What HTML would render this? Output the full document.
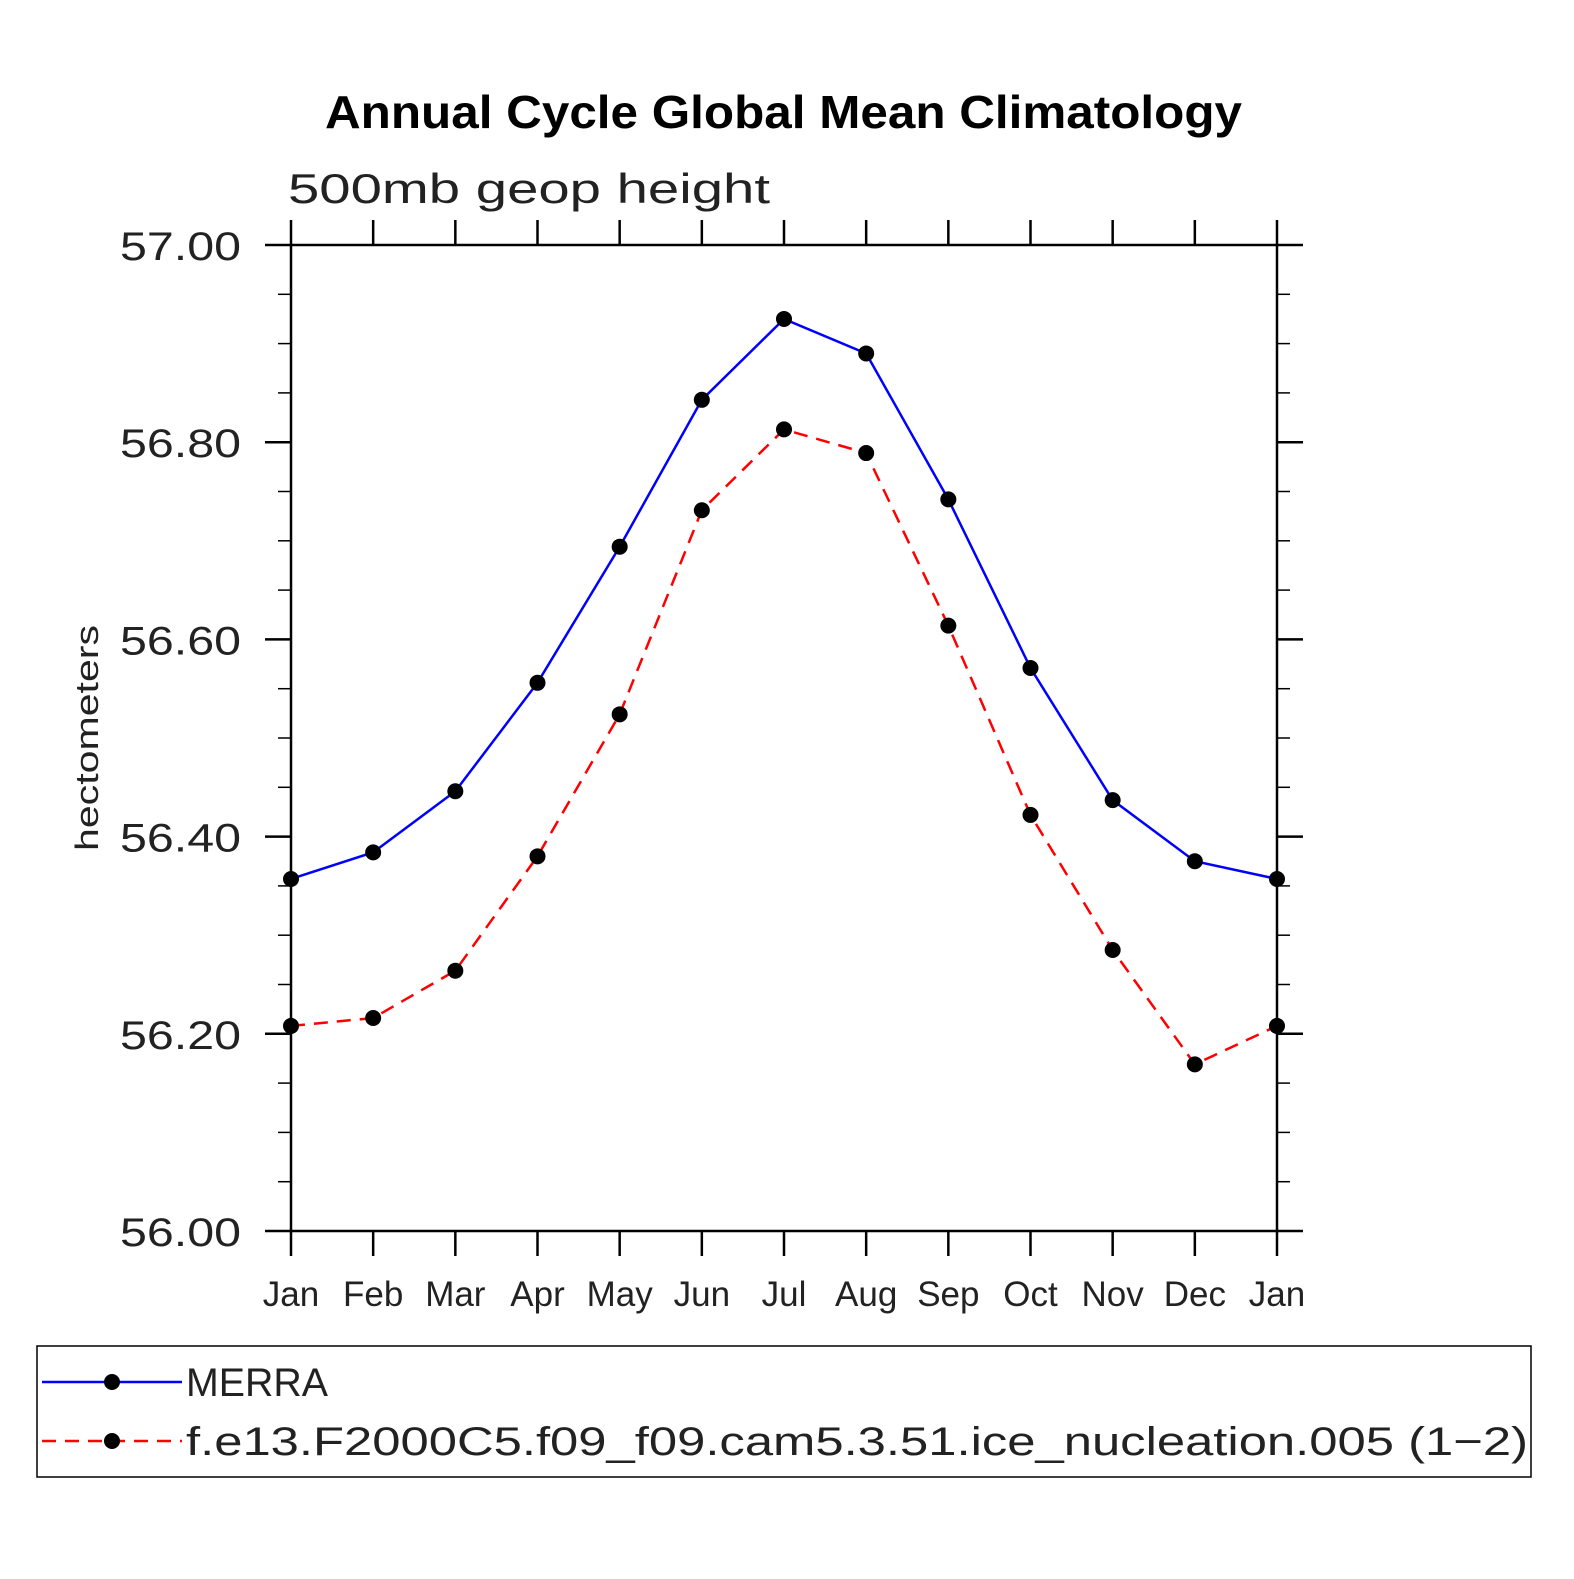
<!DOCTYPE html>
<html><head><meta charset="utf-8"><style>
html,body{margin:0;padding:0;background:#fff;}
svg text{font-family:"Liberation Sans",sans-serif;}
</style></head><body>
<svg id="chart" width="1574" height="1574" viewBox="0 0 1574 1574" xmlns="http://www.w3.org/2000/svg">
<text x="325" y="128" textLength="917" lengthAdjust="spacingAndGlyphs" font-size="46" font-weight="bold">Annual Cycle Global Mean Climatology</text>
<text x="288" y="203" textLength="482" lengthAdjust="spacingAndGlyphs" font-size="42" fill="#222">500mb geop height</text>
<text transform="translate(98,738) rotate(-90)" text-anchor="middle" textLength="226" lengthAdjust="spacingAndGlyphs" font-size="32" fill="#222">hectometers</text>
<g id="axes"></g>
<g id="series"></g>
<rect x="37" y="1346" width="1494" height="131" fill="none" stroke="#000" stroke-width="1.5"/>
<g>
<line x1="42" y1="1382" x2="182" y2="1382" stroke="#00f" stroke-width="2.5"/>
<circle cx="112" cy="1382" r="8" fill="#000"/>
<text x="186" y="1396" textLength="142" lengthAdjust="spacingAndGlyphs" font-size="40" fill="#222">MERRA</text>
</g>
<g>
<line x1="42" y1="1441" x2="182" y2="1441" stroke="#f00" stroke-width="2.5" stroke-dasharray="14,9"/>
<circle cx="112" cy="1441" r="8" fill="#000"/>
<text x="186" y="1455" textLength="1342" lengthAdjust="spacingAndGlyphs" font-size="40" fill="#222">f.e13.F2000C5.f09_f09.cam5.3.51.ice_nucleation.005 (1−2)</text>
</g>
</svg>
<script>
const months = ["Jan","Feb","Mar","Apr","May","Jun","Jul","Aug","Sep","Oct","Nov","Dec","Jan"];
const merra = [56.357,56.384,56.446,56.556,56.694,56.843,56.925,56.890,56.742,56.571,56.437,56.375,56.357];
const model = [56.208,56.216,56.264,56.380,56.524,56.731,56.813,56.789,56.614,56.422,56.285,56.169,56.208];
const yTicks = [56.00,56.20,56.40,56.60,56.80,57.00];
const X0=291,X1=1277,Y0=1231,Y1=245,ymin=56,ymax=57;
const xs=i=>X0+(X1-X0)*i/(months.length-1);
const ys=v=>Y0-(v-ymin)/(ymax-ymin)*(Y0-Y1);
const NS="http://www.w3.org/2000/svg";
function mk(tag,attrs,parent){const e=document.createElementNS(NS,tag);for(const k in attrs)e.setAttribute(k,attrs[k]);parent.appendChild(e);return e;}
const ax=document.getElementById('axes');
const fr=mk('rect',{x:X0,y:Y1,width:X1-X0,height:Y0-Y1,fill:'none',stroke:'#000','stroke-width':2.5},ax);


months.forEach((m,i)=>{
  const x=xs(i);
  mk('line',{x1:x,y1:Y0,x2:x,y2:Y0+25,stroke:'#000','stroke-width':2.5},ax);
  mk('line',{x1:x,y1:Y1,x2:x,y2:Y1-25,stroke:'#000','stroke-width':2.5},ax);
  const t=mk('text',{x:x,y:1306,'text-anchor':'middle','font-size':35,fill:'#222'},ax);
  t.textContent=m;
  
  
});
for(let v=0;v<=20;v++){
  const val=ymin+v*0.05;
  const y=ys(val);
  const major=v%4===0;
  const len=major?26:13;
  mk('line',{x1:X0,y1:y,x2:X0-len,y2:y,stroke:'#000','stroke-width':major?2.5:1.5},ax);
  mk('line',{x1:X1,y1:y,x2:X1+len,y2:y,stroke:'#000','stroke-width':major?2.5:1.5},ax);
}
yTicks.forEach(v=>{
  const t=mk('text',{x:241,y:ys(v)+15,'text-anchor':'end','font-size':40,fill:'#222',textLength:121,lengthAdjust:'spacingAndGlyphs'},ax);
  t.textContent=v.toFixed(2);
  
  
});
const sg=document.getElementById('series');
function drawSeries(data,color,dash,name){
  const pts=data.map((v,i)=>xs(i)+','+ys(v)).join(' ');
  const pl=mk('polyline',{points:pts,fill:'none',stroke:color,'stroke-width':2.5},sg);
  if(dash)pl.setAttribute('stroke-dasharray',dash);
  
  
  data.forEach((v,i)=>{
    const c=mk('circle',{cx:xs(i),cy:ys(v),r:8,fill:'#000'},sg);
    
    
  });
}
drawSeries(merra,'#00f',null,'merra');
drawSeries(model,'#f00','14,9','model');
</script>
</body></html>
